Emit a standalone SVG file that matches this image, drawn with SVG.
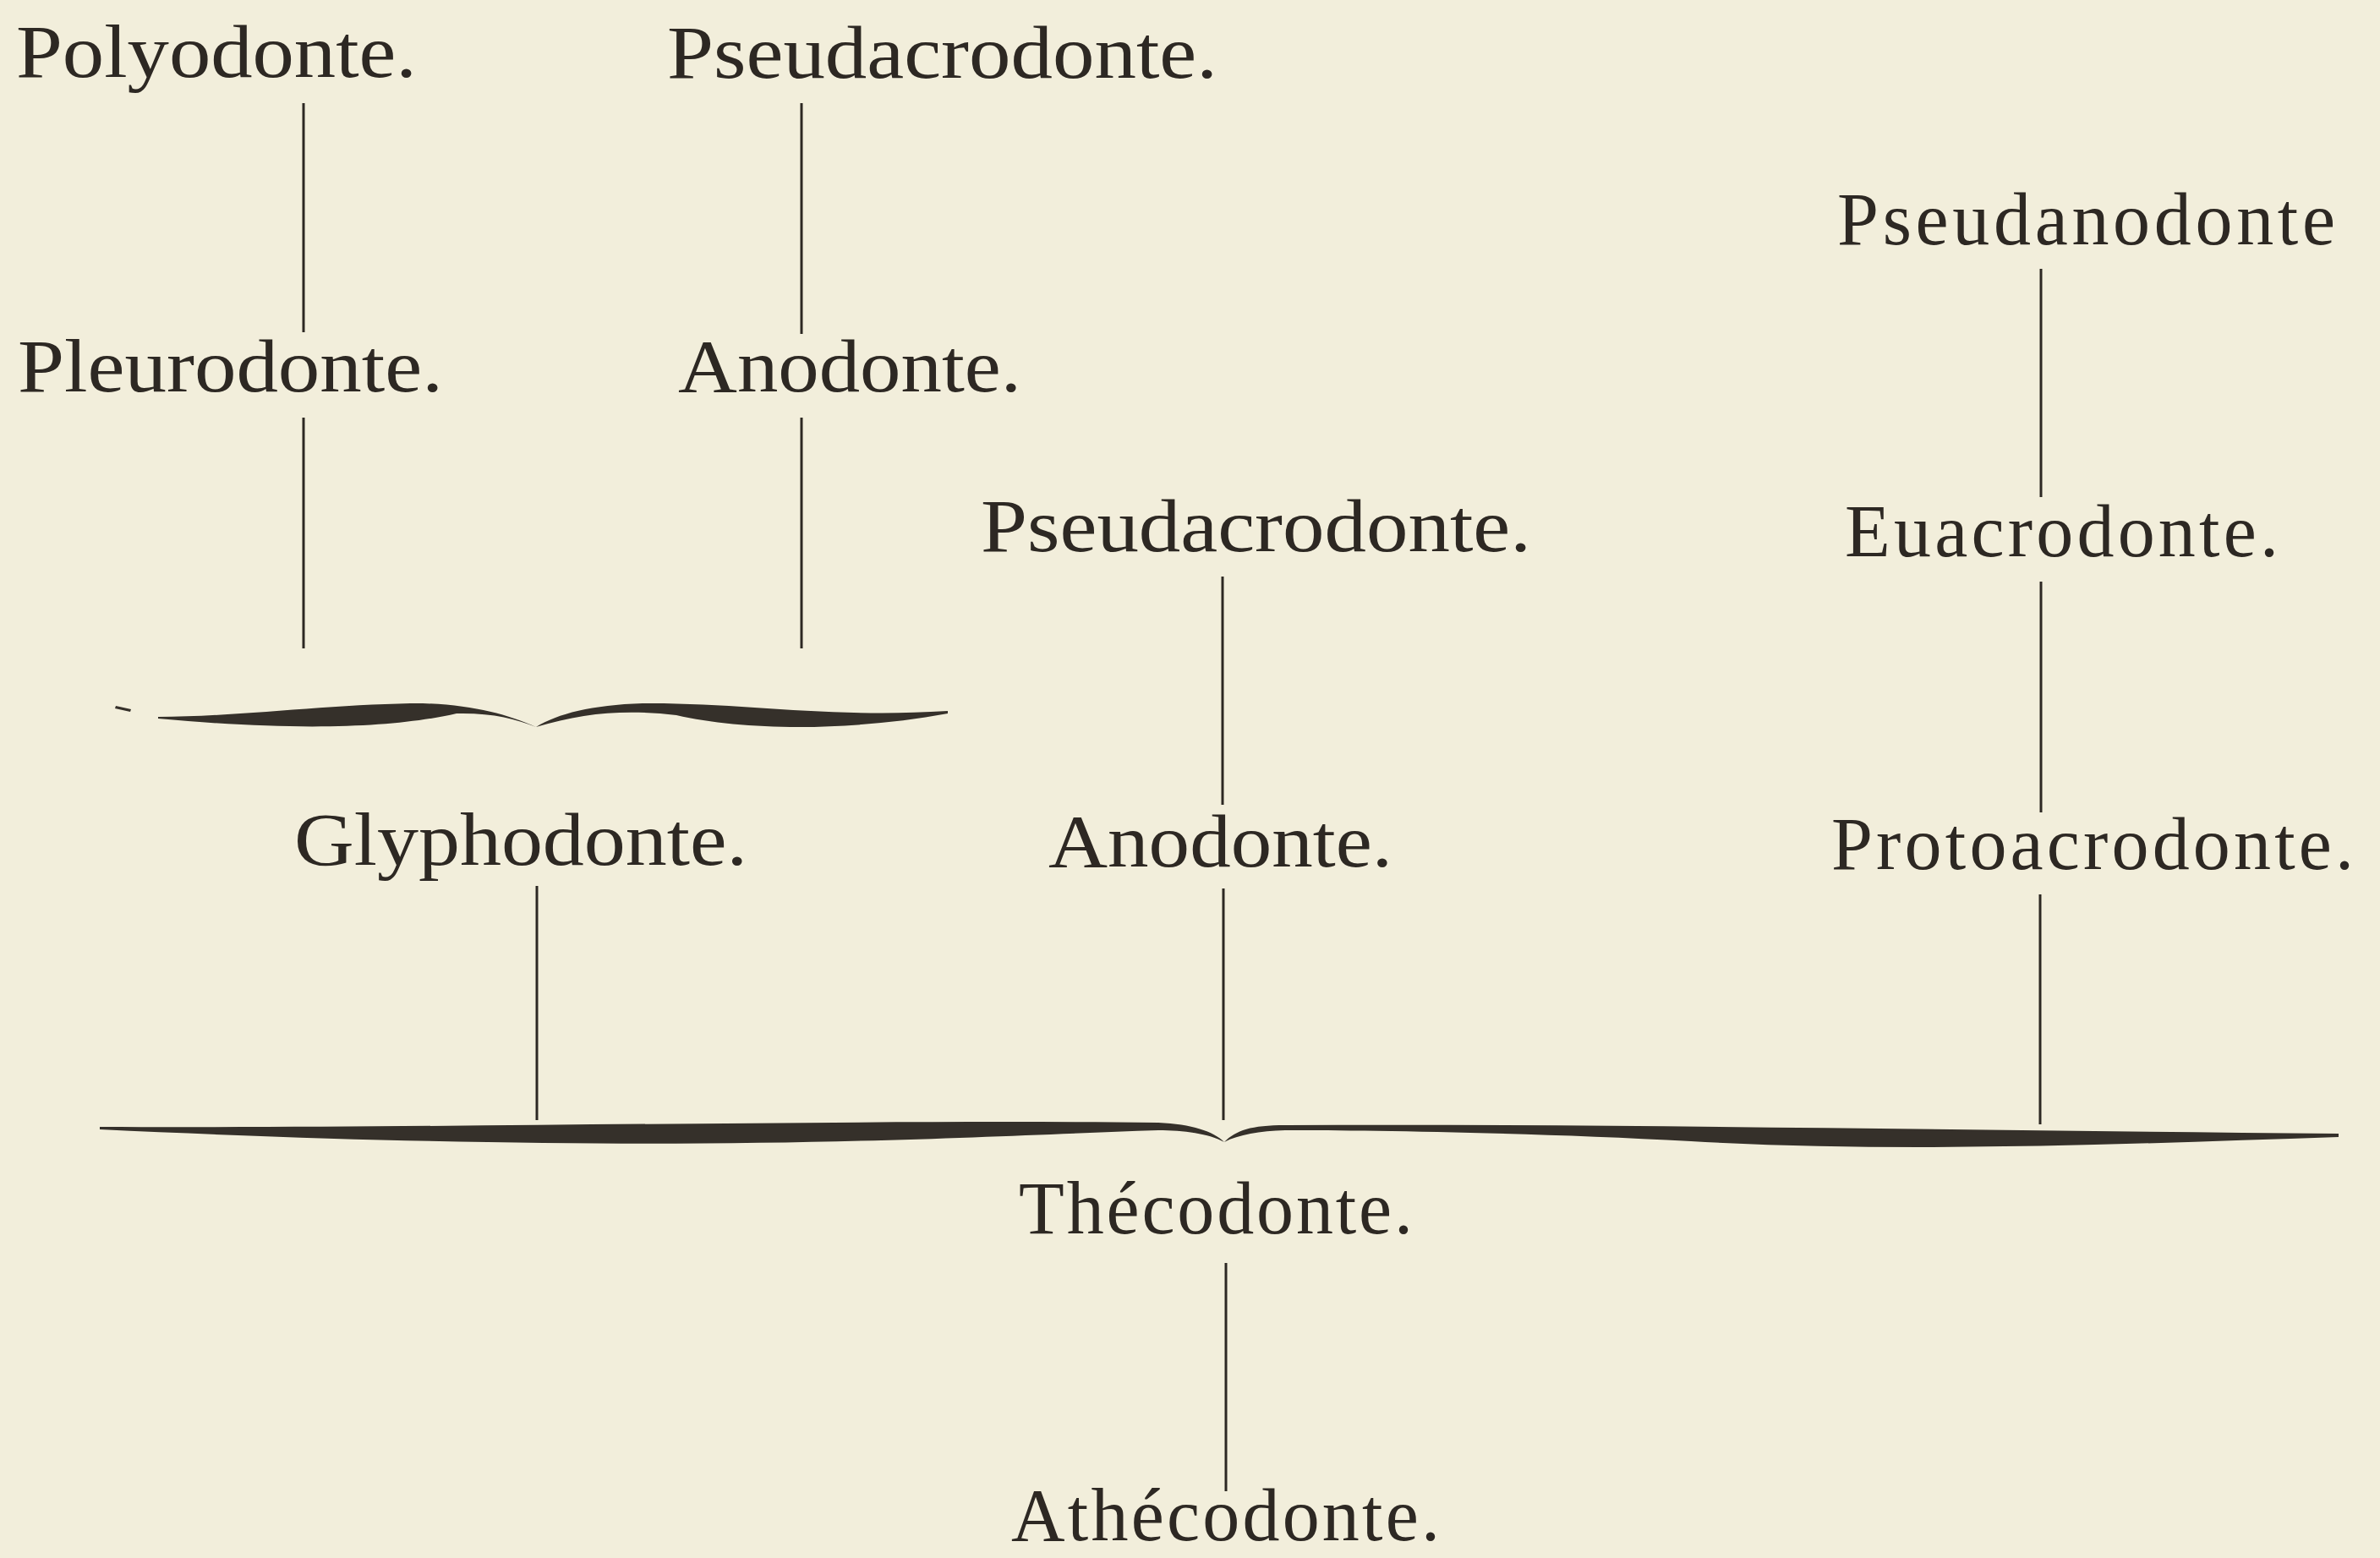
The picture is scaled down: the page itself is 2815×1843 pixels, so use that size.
<svg xmlns="http://www.w3.org/2000/svg" width="2815" height="1843" viewBox="0 0 2815 1843">
<style>
.t{font-family:"Liberation Serif","Times New Roman",serif;font-size:88px;fill:#2d2823}
.w{letter-spacing:6px}
.c line{stroke:#2d2823;stroke-width:3}
.b{fill:#35302a}
</style>
<rect width="2815" height="1843" fill="#f2eedb"/>
<g id="connectors" class="c">
<line x1="359" y1="122" x2="359" y2="393"/>
<line x1="359" y1="494" x2="359" y2="767"/>
<line x1="948" y1="122" x2="948" y2="395"/>
<line x1="948" y1="494" x2="948" y2="767"/>
<line x1="1446" y1="682" x2="1446" y2="952"/>
<line x1="2414" y1="318" x2="2414" y2="588"/>
<line x1="2414" y1="688" x2="2414" y2="961"/>
<line x1="635" y1="1048" x2="635" y2="1325"/>
<line x1="1447" y1="1051" x2="1447" y2="1325"/>
<line x1="2413" y1="1058" x2="2413" y2="1330"/>
<line x1="1450" y1="1494" x2="1450" y2="1764"/>
<g id="brace-upper" class="b">
<path d="M137,835 L155,839 L154,842 L136,838 Z"/>
<path d="M187,848 C280,848 400,832 500,832 C560,834 600,845 634,860 C610,850 580,843 540,844 C470,860 360,866 187,850 Z"/>
<path d="M634,860 C660,844 700,834 760,832 C880,831 980,850 1121,841 L1121,844 C1000,866 880,864 800,846 C740,839 690,843 634,860 Z"/>
</g>
<g id="brace-lower" class="b">
<path d="M118,1333 C500,1335 1000,1324 1370,1328 C1410,1330 1435,1338 1448,1351 C1430,1341 1400,1337 1370,1337 C1100,1346 800,1368 118,1336 Z"/>
<path d="M1448,1351 C1462,1337 1480,1331 1520,1331 C1900,1329 2300,1337 2766,1341 L2766,1345 C2500,1354 2250,1364 2000,1350 C1800,1339 1600,1337 1520,1337 C1490,1338 1465,1342 1448,1351 Z"/>
</g>
</g>
<g id="polyodonte"><text class="t" x="19" y="91" textLength="474" lengthAdjust="spacingAndGlyphs">Polyodonte.</text></g>
<g id="pseudacrodonte-1"><text class="t" x="789" y="92" textLength="651" lengthAdjust="spacingAndGlyphs">Pseudacrodonte.</text></g>
<g id="pseudanodonte"><text class="t w" x="2173" y="289" font-size="84" textLength="595" lengthAdjust="spacing">Pseudanodonte</text></g>
<g id="pleurodonte"><text class="t" x="21" y="463" textLength="503" lengthAdjust="spacingAndGlyphs">Pleurodonte.</text></g>
<g id="anodonte-1"><text class="t" x="802" y="463" textLength="406" lengthAdjust="spacingAndGlyphs">Anodonte.</text></g>
<g id="pseudacrodonte-2"><text class="t" x="1160" y="652" textLength="651" lengthAdjust="spacingAndGlyphs">Pseudacrodonte.</text></g>
<g id="euacrodonte"><text class="t w" x="2182" y="658" textLength="519" lengthAdjust="spacing">Euacrodonte.</text></g>
<g id="glyphodonte"><text class="t" x="348" y="1023" textLength="536" lengthAdjust="spacingAndGlyphs">Glyphodonte.</text></g>
<g id="anodonte-2"><text class="t" x="1240" y="1025" textLength="407" lengthAdjust="spacingAndGlyphs">Anodonte.</text></g>
<g id="protoacrodonte"><text class="t w" x="2166" y="1028" textLength="624" lengthAdjust="spacing">Protoacrodonte.</text></g>
<g id="thecodonte"><text class="t w" x="1205" y="1459" textLength="472" lengthAdjust="spacing">Thécodonte.</text></g>
<g id="athecodonte"><text class="t w" x="1196" y="1822" font-size="86" textLength="513" lengthAdjust="spacing">Athécodonte.</text></g>
</svg>
